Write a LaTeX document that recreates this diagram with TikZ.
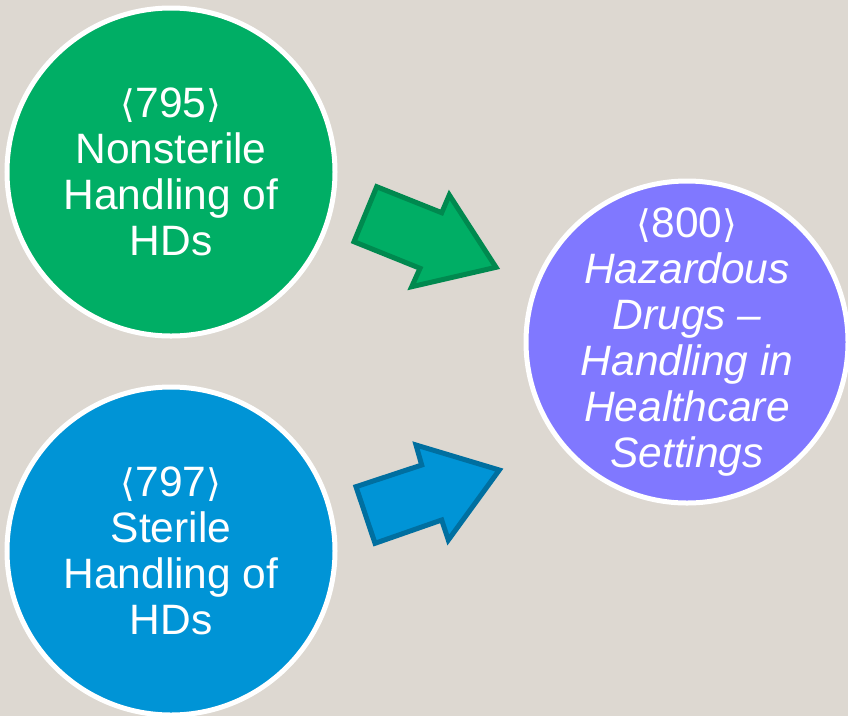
\documentclass[tikz,border=0pt]{standalone}
\usepackage{fontspec}
\setmainfont{Liberation Sans}
\newfontfamily\bracketfont{DejaVu Sans}
\usepackage{tikz}

\definecolor{bgcol}{RGB}{221,216,209}
\definecolor{greencol}{RGB}{0,174,101}
\definecolor{greenline}{RGB}{0,137,79}
\definecolor{bluecol}{RGB}{0,148,214}
\definecolor{blueline}{RGB}{0,111,160}
\definecolor{purplecol}{RGB}{128,120,255}

\newcommand{\uspnum}[1]{{\bracketfont\fontsize{38}{46}\selectfont ⟨}#1{\bracketfont\fontsize{38}{46}\selectfont ⟩}}

\begin{document}
\begin{tikzpicture}[x=1pt,y=-1pt,
	bubble/.style={circle,draw=white,line width=5pt,minimum size=328pt,inner sep=0pt,
		text=white,align=center,font=\fontsize{42.5}{46}\selectfont},
	blockarrow/.style={line width=5pt,line join=miter}]
		%background
		\fill[bgcol] (0,0) rectangle (848,716);
		\useasboundingbox (0,0) rectangle (848,716);
		
		%circles
		\node[bubble,fill=greencol] (nonsterile) at (171,172) {\uspnum{795}\\Nonsterile\\Handling of\\HDs};
		\node[bubble,fill=bluecol] (sterile) at (171,551) {\uspnum{797}\\Sterile\\Handling of\\HDs};
		\node[bubble,fill=purplecol,minimum size=322pt,inner sep=-25pt] (hazardous) at (687,342) {\uspnum{800}\\\itshape Hazardous\\\itshape Drugs --\\\itshape Handling in\\\itshape Healthcare\\\itshape Settings};
		
		%arrows
		\draw[blockarrow,fill=greencol,draw=greenline] (376.7,186.7) -- (441.7,212.7) -- (449.3,195) -- (496,267.3) -- (411.7,286.7) -- (420,268.3) -- (354,241.7) -- cycle;
		\draw[blockarrow,fill=bluecol,draw=blueline] (356,486.7) -- (421.7,465) -- (416,445) -- (499.3,470) -- (448.3,540) -- (441.7,520) -- (375,543.3) -- cycle;
		
\end{tikzpicture}
\end{document}
